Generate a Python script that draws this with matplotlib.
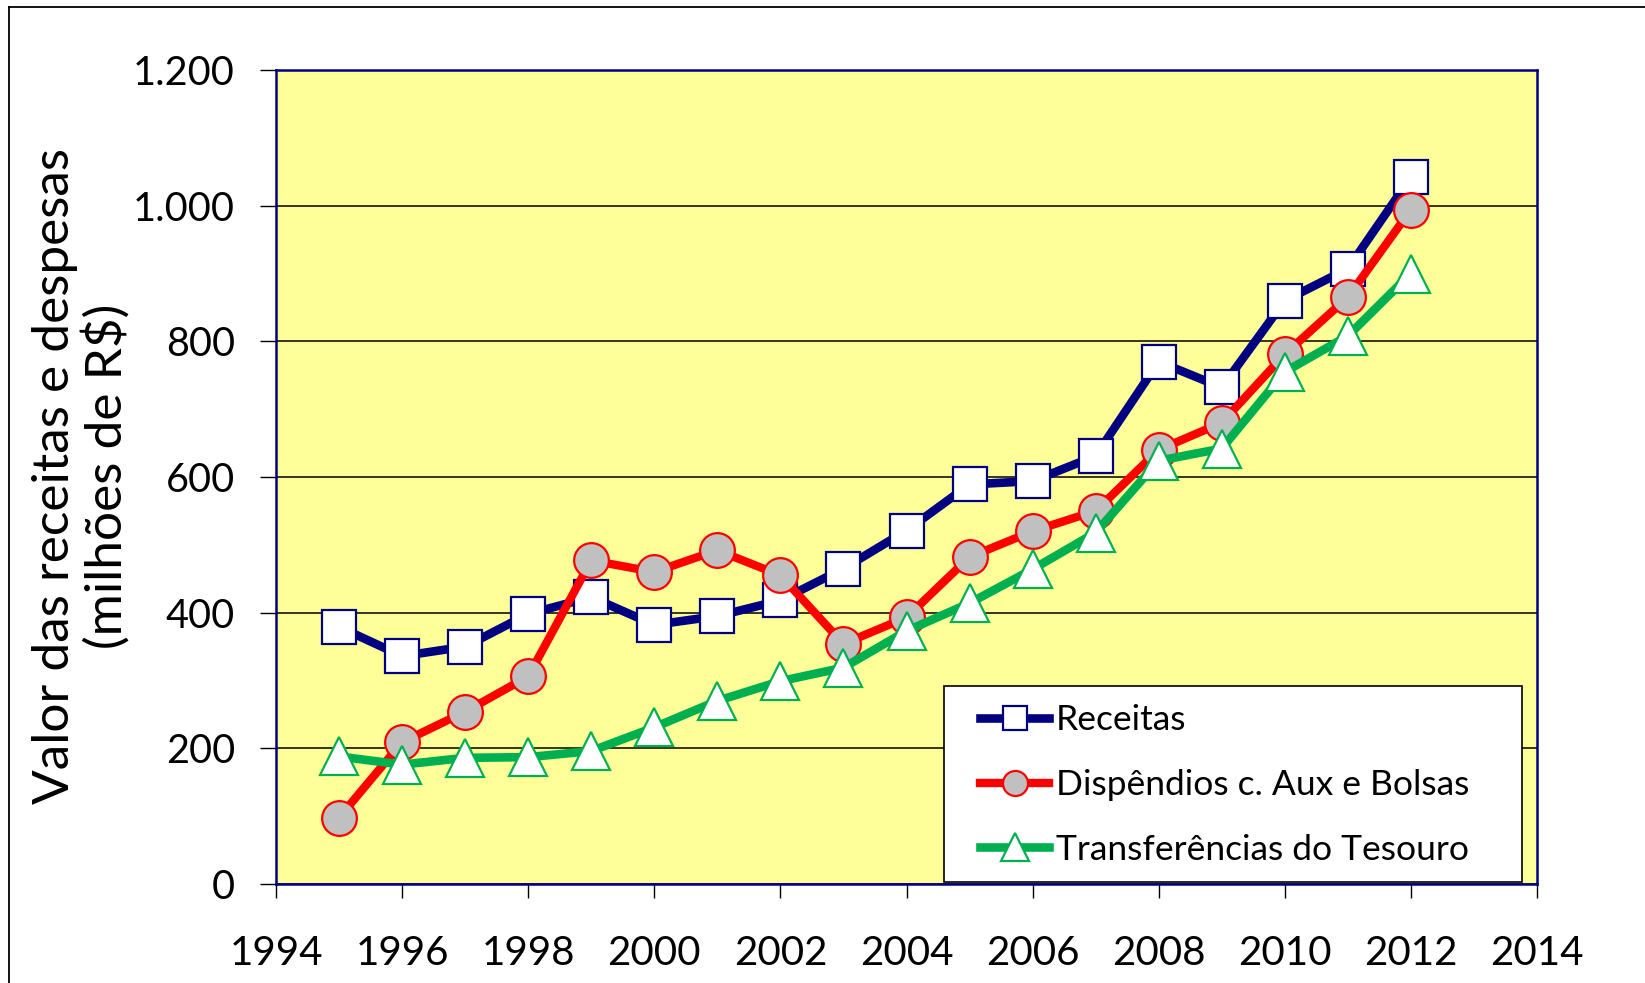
import matplotlib
matplotlib.use("Agg")
import matplotlib.pyplot as plt
from matplotlib.lines import Line2D
from matplotlib.patches import Rectangle

# ---- data ----
years = [1995, 1996, 1997, 1998, 1999, 2000, 2001, 2002, 2003, 2004,
         2005, 2006, 2007, 2008, 2009, 2010, 2011, 2012]
receitas = [379, 336, 350, 398, 423, 382, 395, 418, 465, 521,
            589, 594, 631, 770, 732, 860, 907, 1042]
dispendios = [98, 209, 254, 306, 477, 460, 492, 455, 354, 393,
              482, 520, 550, 640, 680, 781, 865, 994]
transferencias = [188, 176, 186, 187, 196, 231, 270, 299, 319, 373,
                  414, 464, 518, 624, 642, 755, 808, 900]
series_labels = ["Receitas", "Dispêndios c. Aux e Bolsas", "Transferências do Tesouro"]
ytick_values = [0, 200, 400, 600, 800, 1000, 1200]
ytick_labels = ["0", "200", "400", "600", "800", "1.000", "1.200"]
xtick_values = [1994, 1996, 1998, 2000, 2002, 2004, 2006, 2008, 2010, 2012, 2014]
ylabel_text = "Valor das receitas e despesas\n(milhões de R$)"

plt.rcParams['font.family'] = ['Lato', 'DejaVu Sans']

W, H = 1645, 983
fig = plt.figure(figsize=(W / 100, H / 100), dpi=100)
ax_l, ax_t, ax_r, ax_b = 276, 70, 1537, 884
ax = fig.add_axes([ax_l / W, 1 - ax_b / H, (ax_r - ax_l) / W, (ax_b - ax_t) / H])
ax.set_facecolor('#FFFF99')

navy = '#000080'
red = '#FF0000'
green = '#00B050'

ax.plot(years, receitas, color=navy, lw=6.2, marker='s', ms=24,
        mfc='white', mec=navy, mew=1.6, label=series_labels[0], zorder=3)
ax.plot(years, dispendios, color=red, lw=6.0, marker='o', ms=25,
        mfc='#C0C0C0', mec=red, mew=1.6, label=series_labels[1], zorder=4)
ax.plot(years, transferencias, color=green, lw=6.2, marker='^', ms=28,
        mfc='white', mec=green, mew=1.6, label=series_labels[2], zorder=5)

ax.set_xlim(1994, 2014)
ax.set_ylim(0, 1200)
ax.set_yticks(ytick_values)
ax.set_yticklabels(ytick_labels)
ax.set_xticks(xtick_values)
ax.set_xticklabels([str(v) for v in xtick_values])
ax.tick_params(axis='y', direction='out', length=11.5, width=1.0, color='black',
               labelsize=28.5, pad=18)
ax.tick_params(axis='x', direction='out', length=10, width=1.0, color='black',
               labelsize=29, pad=27)

ax.grid(axis='y', color='black', lw=1.1, zorder=1)
ax.set_axisbelow(True)
for s in ax.spines.values():
    s.set_color(navy)
    s.set_linewidth(1.8)

fig.text(81.5 / W, 1 - 476 / H, ylabel_text, rotation=90, ha='center', va='center',
         multialignment='center', fontsize=37, linespacing=1.1)

# legend frame (drawn separately so its padding matches the reference)
def axfrac(px, py):
    return (px - ax_l) / (ax_r - ax_l), (ax_b - py) / (ax_b - ax_t)

fx0, fy0 = axfrac(944, 882)
fx1, fy1 = axfrac(1522, 686)
frame = Rectangle((fx0, fy0), fx1 - fx0, fy1 - fy0, transform=ax.transAxes,
                  facecolor='white', edgecolor='black', lw=1.2, zorder=9, clip_on=False)
ax.add_patch(frame)

lx, ly = axfrac(980, 704)
leg = ax.legend(loc='upper left', bbox_to_anchor=(lx, ly),
                fontsize=25.5, frameon=False, borderpad=0,
                labelspacing=0.93, handlelength=1.95, handletextpad=0.2,
                borderaxespad=0, markerscale=0.72)
leg.set_zorder(10)

# outer frame of the chart
fig.add_artist(Line2D([9 / W, 9 / W], [0, 1 - 7 / H], color='black', lw=1.3))
fig.add_artist(Line2D([9 / W, 1], [1 - 7 / H, 1 - 7 / H], color='black', lw=1.3))

fig.savefig('out.png', dpi=100)
